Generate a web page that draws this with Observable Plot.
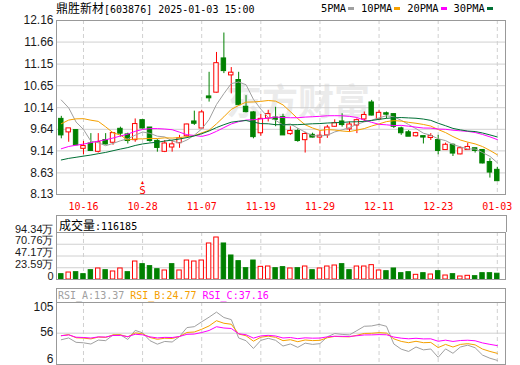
<!DOCTYPE html>
<html><head><meta charset="utf-8">
<script src="https://cdn.jsdelivr.net/npm/d3@7"></script>
<script src="https://cdn.jsdelivr.net/npm/@observablehq/plot@0.6"></script>
<style>
body{margin:0;background:#fff;}
#wrap{position:relative;width:520px;height:365px;overflow:hidden;font-family:"Liberation Sans",Arial,sans-serif;color:#000;}
.abs{position:absolute;}
.mono{font-family:"DejaVu Sans Mono",monospace;}
.cjk{font-family:"Noto Sans CJK SC",sans-serif;}
svg{position:absolute;left:0;}
</style></head><body><div id="wrap"></div>
<script>
// ---------- data ----------
const stockName = "鼎胜新材";
const stockCode = "603876";
const stamp = "2025-01-03 15:00";
const dates = ["10-11","10-14","10-15","10-16","10-17","10-18","10-21","10-22","10-23","10-24",
"10-25","10-28","10-29","10-30","10-31","11-01","11-04","11-05","11-06","11-07",
"11-08","11-11","11-12","11-13","11-14","11-15","11-18","11-19","11-20","11-21",
"11-22","11-25","11-26","11-27","11-28","11-29","12-02","12-03","12-04","12-05",
"12-06","12-09","12-10","12-11","12-12","12-13","12-16","12-17","12-18","12-19",
"12-20","12-23","12-24","12-25","12-26","12-27","12-30","12-31","01-02","01-03"];
const opens = [9.87,9.58,9.61,9.20,9.30,9.13,9.38,9.34,9.64,9.51,
9.40,9.84,9.67,9.36,9.13,9.23,9.33,9.49,9.81,9.67,
10.39,10.50,11.27,10.90,10.77,10.15,10.02,9.56,9.90,9.90,
9.91,9.54,9.59,9.40,9.50,9.46,9.51,9.71,9.81,9.65,
9.74,9.88,10.25,9.88,10.00,9.98,9.65,9.56,9.49,9.47,
9.45,9.38,9.17,9.27,9.07,9.17,9.19,9.15,8.87,8.69];
const highs = [9.94,9.66,9.63,9.36,9.54,9.54,9.54,9.56,9.69,9.55,
9.88,9.86,9.68,9.40,9.38,9.38,9.50,9.76,10.06,10.08,
10.96,11.42,11.87,11.07,10.96,10.42,10.05,9.98,10.08,10.15,
9.99,9.70,9.65,9.57,9.55,9.60,9.73,9.86,10.00,9.81,
9.88,10.04,10.31,10.08,10.04,10.00,9.69,9.61,9.57,9.47,
9.54,9.50,9.32,9.30,9.23,9.32,9.19,9.17,8.96,8.76];
const lows = [9.42,9.34,9.26,9.05,9.14,9.09,9.28,9.27,9.46,9.30,
9.34,9.65,9.34,9.11,9.10,9.11,9.20,9.46,9.73,9.67,
10.27,10.48,10.93,10.46,10.19,10.02,9.42,9.48,9.81,9.70,
9.50,9.50,9.34,9.09,9.44,9.30,9.43,9.69,9.69,9.57,
9.54,9.81,9.95,9.86,9.88,9.66,9.50,9.48,9.46,9.30,
9.38,9.05,9.17,9.01,9.05,9.17,9.09,8.84,8.51,8.44];
const closes = [9.51,9.65,9.28,9.24,9.15,9.33,9.30,9.54,9.55,9.38,
9.75,9.67,9.38,9.22,9.30,9.28,9.42,9.74,9.78,10.02,
10.37,11.16,11.00,10.94,10.21,10.05,9.47,9.87,9.98,9.87,
9.51,9.59,9.38,9.52,9.46,9.48,9.67,9.77,9.75,9.74,
9.84,9.96,9.97,10.01,9.99,9.71,9.56,9.48,9.54,9.46,
9.47,9.15,9.27,9.09,9.19,9.22,9.15,8.86,8.65,8.45];
// 成交量 (手)
const volumes = [107000,140000,147000,107000,187000,221000,187000,161000,221000,147000,
361000,308000,268000,207000,181000,308000,181000,381000,361000,381000,
723000,843000,723000,482000,368000,227000,381000,254000,261000,227000,
248000,221000,227000,261000,187000,221000,261000,281000,308000,187000,
261000,261000,288000,181000,167000,221000,127000,147000,94000,127000,
100000,167000,80000,107000,60000,74000,67000,127000,127000,116185];
// closes before the window, estimated from where the MA lines start
const priorCloses = [8.55,8.50,8.45,8.40,8.38,8.42,8.36,8.40,8.34,8.30,
8.60,8.68,8.74,8.48,8.60,8.68,8.74,8.62,8.51,8.45,
8.80,9.00,9.20,9.50,9.60,10.56,10.92,10.10,10.50];
const priceTicks = [8.13,8.63,9.14,9.64,10.14,10.65,11.15,11.66,12.16];
const volTicks = [0,235900,471700,707600,943400];
const volTickLabels = ["0","23.59万","47.17万","70.76万","94.34万"];
const rsiTicks = [6,56,105];
const rsiGrid = [56];
const dateTicks = ["10-16","10-28","11-07","11-19","11-29","12-11","12-23","01-03"];
const maNames = ["5PMA","10PMA","20PMA","30PMA"];
const maPeriods = [5,10,20,30];
const rsiNames = ["RSI_A","RSI_B","RSI_C"];
const rsiPeriods = [6,12,24];
const rsiLast = ["13.37","24.77","37.16"];
const signals = [{date:"10-28", label:"S"}];
const watermark = "东方财富";
const volTitle = "成交量";

// ---------- styles ----------
const RED = "#ff0000", GREEN = "#008000";
const maColors = ["#a0a0a0","#f5a000","#ff00ff","#007035"];
const rsiColors = ["#a0a0a0","#f5a000","#ff00ff"];
const rsiLabelDy = [-5,-1,5];
const GRID = "#d0d0d0", FRAME = "#999999";

// ---------- derived ----------
const P = priorCloses.length;
const allCloses = priorCloses.concat(closes);
const rows = dates.map((d,i)=>({i, date:d, open:opens[i], high:highs[i], low:lows[i], close:closes[i], vol:volumes[i],
  prev: allCloses[P+i-1]}));
const maRows = [];
maPeriods.forEach((k,m)=>{
  rows.forEach((r,i)=>{
    const w = allCloses.slice(Math.max(0,P+i-k+1), P+i+1);
    maRows.push({i, v: d3.mean(w), name: maNames[m]});
  });
});
const rsiRows = [];
rsiPeriods.forEach((N,m)=>{
  let up=0, ab=0;
  for (let j=1;j<allCloses.length;j++){
    const d = allCloses[j]-allCloses[j-1];
    if (j===1){ up=Math.max(d,0); ab=Math.abs(d); }
    else { up=(Math.max(d,0)+(N-1)*up)/N; ab=(Math.abs(d)+(N-1)*ab)/N; }
    if (j>=P) rsiRows.push({i:j-P, v: ab? up/ab*100 : 50, name: rsiNames[m]});
  }
});
const isUp = d => d.close >= d.open;
const volUp = d => d.close >= d.prev;
const xDomain = [-0.65, 60.11];
const xTicks = dateTicks.map(t=>dates.indexOf(t));

const wrap = document.getElementById("wrap");
function addDiv(html, style){ const d=document.createElement("div"); d.className="abs"; d.innerHTML=html; Object.assign(d.style, style); wrap.appendChild(d); return d; }
function addPlot(svg, top){ svg.style.top = top+"px"; wrap.appendChild(svg); }
const baseStyle = {background:"transparent", fontFamily:"'Liberation Sans', Arial, sans-serif", fontSize:"12px", color:"#1a1a1a", overflow:"visible"};

// ---------- main candlestick panel ----------
const main = Plot.plot({
  width:520, height:212, marginTop:20, marginBottom:18, marginLeft:56, marginRight:15,
  style:baseStyle,
  x:{domain:xDomain, axis:null},
  y:{domain:[8.13,12.16], axis:null},
  color:{type:"identity"},
  marks:[
    Plot.text([watermark], {frameAnchor:"middle", dx:17, dy:-4, fontSize:36, fontWeight:"bold", fill:"#ebebeb", fontFamily:"'Noto Sans CJK SC', sans-serif"}),
    Plot.gridY({ticks:priceTicks, stroke:GRID, strokeOpacity:1}),
    Plot.gridX({ticks:xTicks, stroke:GRID, strokeOpacity:1, strokeDasharray:"4,3"}),
    Plot.axisY({ticks:priceTicks, label:null, tickSize:0, tickPadding:3, tickFormat:d=>d.toFixed(2), fontSize:12, fill:"#1a1a1a"}),
    Plot.axisX({ticks:xTicks, label:null, tickSize:0, tickPadding:8, tickFormat:i=>dates[i], fill:RED, fontSize:10, fontFamily:"'DejaVu Sans Mono', monospace"}),
    Plot.ruleX(rows, {x:"i", y1:"low", y2:"high", stroke:d=>isUp(d)?RED:GREEN}),
    Plot.rect(rows, {x1:d=>d.i-0.3, x2:d=>d.i+0.3, y1:"open", y2:"close", fill:d=>isUp(d)?"#ffffff":GREEN, stroke:d=>isUp(d)?RED:GREEN, insetTop:-0.5, insetBottom:-0.5}),
    Plot.line(maRows, {x:"i", y:"v", z:"name", stroke:d=>maColors[maNames.indexOf(d.name)], strokeWidth:1}),
    Plot.text(signals, {x:d=>dates.indexOf(d.date), text:"label", frameAnchor:"bottom", dy:-1, lineAnchor:"bottom", fill:RED, fontSize:11, fontFamily:"'DejaVu Sans Mono', monospace"}),
    Plot.text(signals, {x:d=>dates.indexOf(d.date), text:()=>"▲", frameAnchor:"bottom", dy:-11, lineAnchor:"bottom", fill:RED, fontSize:5}),
    Plot.frame({stroke:FRAME})
  ]
});
addPlot(main, 0);

// ---------- volume panel ----------
const vol = Plot.plot({
  width:520, height:69, marginTop:20, marginBottom:2, marginLeft:56, marginRight:15,
  style:baseStyle,
  x:{domain:xDomain, axis:null},
  y:{domain:[0,943400], axis:null},
  color:{type:"identity"},
  marks:[
    Plot.gridY({ticks:volTicks, stroke:GRID, strokeOpacity:1}),
    Plot.gridX({ticks:xTicks, stroke:GRID, strokeOpacity:1, strokeDasharray:"4,3"}),
    Plot.axisY({ticks:volTicks, label:null, tickSize:0, tickPadding:3, dy:-3, tickFormat:v=>volTickLabels[volTicks.indexOf(v)], fontSize:11, lineHeight:0.9, fill:"#1a1a1a"}),
    Plot.rect(rows, {x1:d=>d.i-0.3, x2:d=>d.i+0.3, y1:0, y2:"vol", fill:d=>volUp(d)?"#ffffff":GREEN, stroke:d=>volUp(d)?RED:GREEN}),
    Plot.frame({stroke:FRAME})
  ]
});
addPlot(vol, 212);
addDiv(`<span class="cjk" style="font-size:12px">${volTitle}</span><span class="mono" style="font-size:10px">:${volumes[volumes.length-1]}</span>`,
  {left:"56px", top:"215px", width:"447px", height:"16px", border:"1px solid "+FRAME, borderBottom:"none", paddingLeft:"2px", lineHeight:"17px"});

// ---------- RSI panel ----------
const rsi = Plot.plot({
  width:520, height:84, marginTop:21, marginBottom:1, marginLeft:56, marginRight:15,
  style:baseStyle,
  x:{domain:xDomain, axis:null},
  y:{domain:[6,105], axis:null},
  color:{type:"identity"},
  marks:[
    Plot.gridY({ticks:rsiGrid, stroke:GRID, strokeOpacity:1}),
    Plot.gridX({ticks:xTicks, stroke:GRID, strokeOpacity:1, strokeDasharray:"4,3"}),
    ...rsiTicks.map((t,k)=>Plot.axisY({ticks:[t], label:null, tickSize:0, tickPadding:3, dy:rsiLabelDy[k], tickFormat:d=>String(d), fontSize:12, fill:"#1a1a1a"})),
    Plot.line(rsiRows, {x:"i", y:"v", z:"name", stroke:d=>rsiColors[rsiNames.indexOf(d.name)], strokeWidth:1, clip:true}),
    Plot.frame({stroke:FRAME})
  ]
});
addPlot(rsi, 281);
addDiv(rsiNames.map((n,k)=>`<span style="color:${rsiColors[k]}">${n}:${rsiLast[k]}</span>`).join(" "),
  {left:"56px", top:"288px", width:"447px", height:"13px", border:"1px solid "+FRAME, borderBottom:"none", paddingLeft:"1px", lineHeight:"14px", fontFamily:"'DejaVu Sans Mono', monospace", fontSize:"10px", whiteSpace:"pre"});

// ---------- title & legend ----------
addDiv(`<span class="cjk" style="font-size:12px">${stockName}</span><span class="mono" style="font-size:10px">[${stockCode}] ${stamp}</span>`,
  {left:"56px", top:"0px", lineHeight:"16px"});
addDiv(maNames.map((n,k)=>`<span style="display:inline-block;margin-right:7px">${n}<span style="display:inline-block;width:6px;height:3px;margin-left:2px;vertical-align:2px;background:${maColors[k]}"></span></span>`).join(""),
  {left:"321px", top:"1px", lineHeight:"14px", fontFamily:"'DejaVu Sans Mono', monospace", fontSize:"10.4px", whiteSpace:"nowrap"});
</script></body></html>
